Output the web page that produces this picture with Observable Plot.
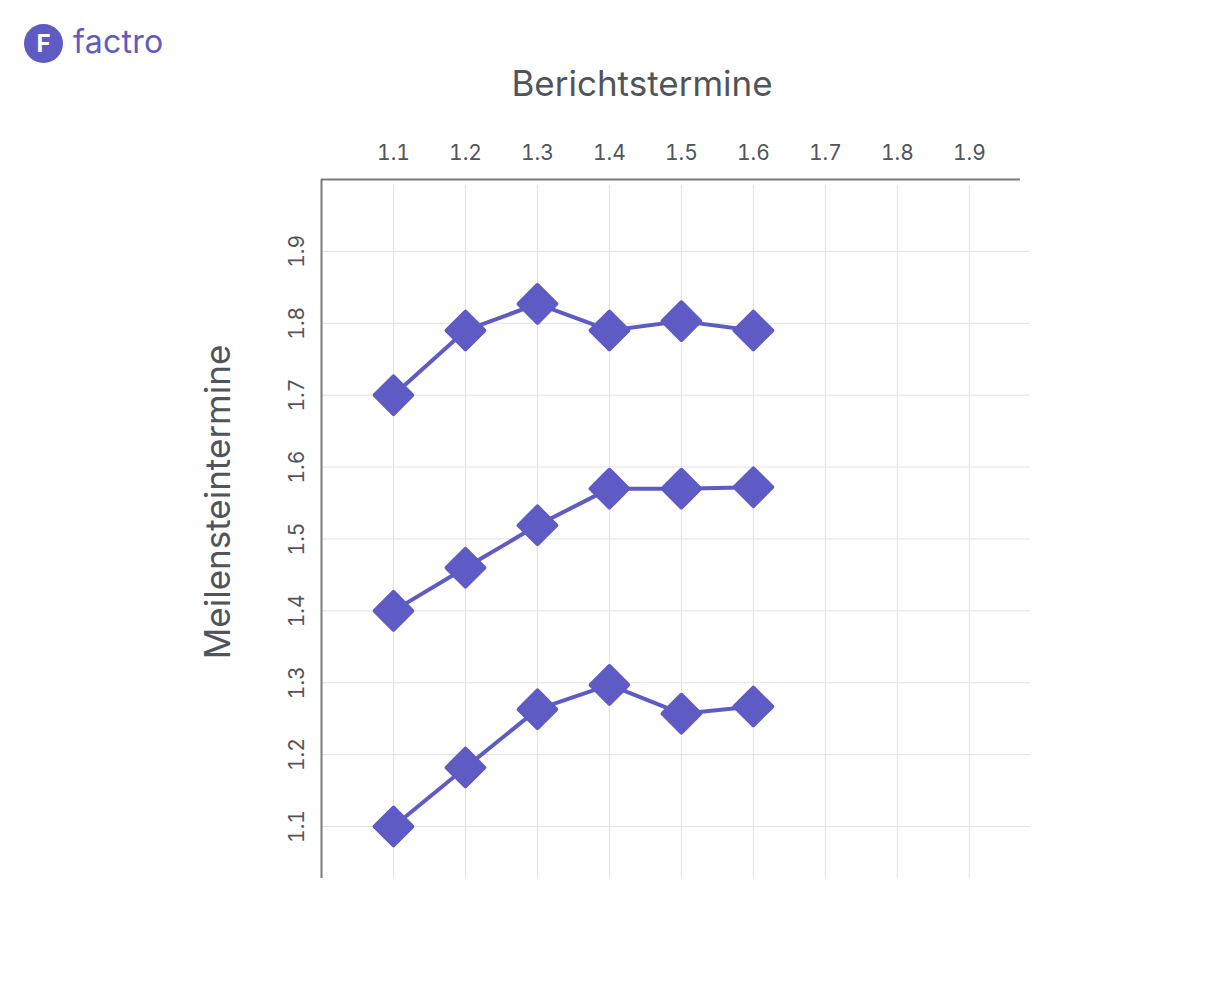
<!DOCTYPE html>
<html>
<head>
<meta charset="utf-8">
<script src="https://cdn.jsdelivr.net/npm/d3@7"></script>
<script src="https://cdn.jsdelivr.net/npm/@observablehq/plot@0.6"></script>
<style>
  html, body { margin: 0; padding: 0; background: #fff; }
  #wrap { position: relative; width: 1216px; height: 993px; }
  #logo { position: absolute; left: 24px; top: 24px; display: flex; align-items: center; font-family: Inter, "Noto Sans", sans-serif; }
  #logo .circ { width: 39px; height: 39px; border-radius: 50%; background: #5f5bc4; color: #fff; font-weight: 700; font-size: 24px; display: flex; align-items: center; justify-content: center; }
  #logo .name { margin-left: 10px; color: #5f5bc4; font-size: 32px; letter-spacing: 0.3px; line-height: 1; margin-top: -4px; }
  svg { display: block; }
</style>
</head>
<body>
<div id="wrap">
  <div id="logo"><div class="circ">F</div><div class="name">factro</div></div>
  <div id="chart"></div>
</div>
<script>
// ---- data ----
const berichtstermine = [1.1, 1.2, 1.3, 1.4, 1.5, 1.6];
const meilensteinA = [1.70, 1.79, 1.827, 1.79, 1.803, 1.79];
const meilensteinB = [1.40, 1.46, 1.519, 1.57, 1.57, 1.572];
const meilensteinC = [1.10, 1.182, 1.263, 1.297, 1.257, 1.267];
const xTicks = [1.1, 1.2, 1.3, 1.4, 1.5, 1.6, 1.7, 1.8, 1.9];
const yTicks = [1.1, 1.2, 1.3, 1.4, 1.5, 1.6, 1.7, 1.8, 1.9];
const xTitle = "Berichtstermine";
const yTitle = "Meilensteintermine";

const rows = [];
[["A", meilensteinA], ["B", meilensteinB], ["C", meilensteinC]].forEach(([s, vals]) => {
  vals.forEach((v, i) => rows.push({ serie: s, x: berichtstermine[i], y: v }));
});

const purple = "#5f5bc4";
const textGray = "#50555b";
const xDom = [1.0, 1.985];
const yDom = [1.0277, 2.0];
const fmt = d3.format(".1f");

const chart = Plot.plot({
  width: 1216,
  height: 993,
  marginLeft: 321,
  marginRight: 186,
  marginTop: 179,
  marginBottom: 115,
  style: { fontFamily: "Inter, 'Noto Sans', sans-serif", color: textGray, background: "transparent" },
  x: { domain: xDom },
  y: { domain: yDom },
  marks: [
    // horizontal grid
    Plot.ruleY(yTicks, { x1: xDom[0], x2: xDom[1], stroke: "#e2e2e2", strokeWidth: 1 }),
    // vertical grid
    Plot.ruleX(xTicks, { y1: yDom[0], y2: 1.992, stroke: "#e2e2e2", strokeWidth: 1 }),
    // axis lines
    Plot.ruleX([xDom[0]], { y1: yDom[0], y2: yDom[1], stroke: "#7a7a7a", strokeWidth: 2 }),
    Plot.ruleY([yDom[1]], { x1: xDom[0], x2: 1.971, stroke: "#7a7a7a", strokeWidth: 2 }),
    Plot.axisX(xTicks, { anchor: "top", tickSize: 0, tickPadding: 20, fontSize: 21, tickFormat: fmt, label: null, fill: textGray }),
    Plot.axisY(yTicks, { anchor: "left", tickSize: 0, tickPadding: 18, tickRotate: -90, fontSize: 21, tickFormat: fmt, label: null, fill: textGray }),
    Plot.line(rows, { x: "x", y: "y", z: "serie", stroke: purple, strokeWidth: 4 }),
    Plot.dot(rows, { x: "x", y: "y", symbol: "diamond2", r: 17, fill: purple, stroke: purple, strokeWidth: 4, strokeLinejoin: "round" }),
    Plot.text([xTitle], { frameAnchor: "top", text: d => d, dx: -34, dy: -95, lineAnchor: "middle", textAnchor: "middle", fontSize: 35, fill: textGray }),
    Plot.text([yTitle], { frameAnchor: "left", text: d => d, dx: -103, dy: -27, rotate: -90, lineAnchor: "middle", textAnchor: "middle", fontSize: 35, fill: textGray })
  ]
});
document.getElementById("chart").appendChild(chart);
</script>
</body>
</html>
